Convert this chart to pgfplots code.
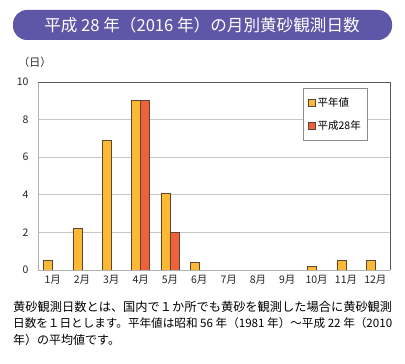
\documentclass[border=0pt]{standalone}
\usepackage{pgfplots}
\pgfplotsset{compat=1.18}
\usepackage{fontspec}
\setmainfont{Noto Sans CJK JP}
\definecolor{ttl}{HTML}{5E56A6}
\definecolor{yel}{HTML}{FDB933}
\definecolor{red}{HTML}{F0603A}
\definecolor{edge}{HTML}{5A4636}
\pgfplotstableread{
x y
1 0.5
2 2.2
3 6.9
4 9.0
5 4.1
6 0.4
7 nan
8 nan
9 nan
10 0.2
11 0.5
12 0.5
}\normal
\pgfplotstableread{
x y
1 nan
2 nan
3 nan
4 9
5 2
6 nan
7 nan
8 nan
9 nan
10 nan
11 nan
12 nan
}\heisei
\begin{document}
\begin{tikzpicture}[x=1pt,y=1pt]
\path[use as bounding box,fill=white] (0,0) rectangle (405,364);
\fill[ttl,rounded corners=14pt] (13,324) rectangle (392,354);
\node[text=white,font=\fontsize{16.6}{19}\selectfont] at (202,339) {平成 28 年（2016 年）の月別黄砂観測日数};
\begin{axis}[
  at={(38pt,94pt)}, anchor=south west,
  scale only axis, width=352pt, height=188pt,
  xmin=0.5, xmax=12.5, ymin=0, ymax=10,
  ybar=0pt, bar width=9pt,
  xtick={1,...,12},
  xticklabels={1月,2月,3月,4月,5月,6月,7月,8月,9月,10月,11月,12月},
  ytick={0,2,4,6,8,10},
  major tick length=0pt,
  ymajorgrids, grid style={draw=black!22, line width=0.8pt},
  axis line style={draw=none},
  /pgf/number format/assume math mode=true,
  tick label style={font=\fontsize{10.5}{12}\selectfont, text=black!85},
  yticklabel style={xshift=-6pt},
  xticklabel style={yshift=-2pt},
  legend style={at={(0.753,0.968)}, anchor=north west, draw=black!45, line width=0.8pt,
    font=\fontsize{10.5}{12}\selectfont, row sep=9pt, inner xsep=5pt, inner ysep=7pt,
    cells={anchor=west}},
  legend image code/.code={\draw[#1] (0pt,-3.3pt) rectangle (6.6pt,3.3pt);},
  clip=false,
]
\addplot[fill=yel, draw=edge, line width=0.6pt] table[x=x,y=y] {\normal};
\addplot[fill=red, draw=edge, line width=0.6pt] table[x=x,y=y] {\heisei};
\legend{平年値,平成28年}
\draw[black!30, line width=0.8pt] (rel axis cs:0,0) -- (rel axis cs:0,1);
\draw[black!65, line width=0.8pt] (rel axis cs:0,1) -- (rel axis cs:1,1) -- (rel axis cs:1,0);
\draw[black!30, line width=0.8pt] (rel axis cs:0,0) -- (rel axis cs:1,0);
\end{axis}
\node[font=\fontsize{11}{12}\selectfont, text=black!85] at (35,302) {（日）};
\node[anchor=west, inner sep=0pt, font=\fontsize{12}{14}\selectfont] at (13,57) {\resizebox{379pt}{!}{黄砂観測日数とは、国内で１か所でも黄砂を観測した場合に黄砂観測}};
\node[anchor=west, inner sep=0pt, font=\fontsize{12}{14}\selectfont] at (13,40.5) {\resizebox{379pt}{!}{日数を１日とします。平年値は昭和 56 年（1981 年）～平成 22 年（2010}};
\node[anchor=west, inner sep=0pt, font=\fontsize{12}{14}\selectfont] at (13,24) {年）の平均値です。};
\end{tikzpicture}
\end{document}
